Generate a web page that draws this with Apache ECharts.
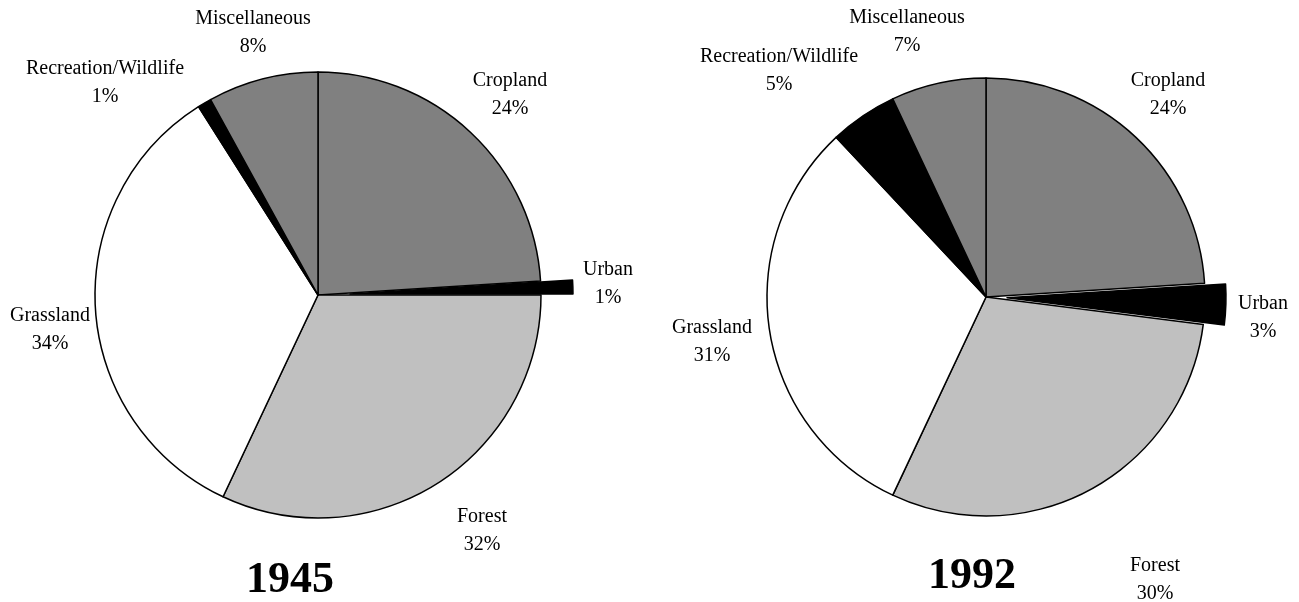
<!DOCTYPE html>
<html>
<head>
<meta charset="utf-8">
<title>Land use 1945 and 1992</title>
<script src="https://cdn.jsdelivr.net/npm/echarts@6/dist/echarts.min.js"></script>
<style>
  html, body { margin: 0; padding: 0; background: #ffffff; }
  #chart { width: 1299px; height: 602px; }
</style>
</head>
<body>
<div id="chart"></div>
<script>
// Land-use categories, in clockwise order from 12 o'clock
const categories = ['Cropland', 'Urban', 'Forest', 'Grassland', 'Recreation/Wildlife', 'Miscellaneous'];
// Percent of land area per category
const share1945 = [24, 1, 32, 34, 1, 8];
const share1992 = [24, 3, 30, 31, 5, 7];
const years = ['1945', '1992'];
// Slice fills, one per category
const fills = ['#808080', '#000000', '#c0c0c0', '#ffffff', '#000000', '#808080'];
// Category pulled out of each pie
const explodedCategory = 'Urban';

// Placement of each pie, its label anchors and year caption
const layout = [
  {
    center: [318, 295], radius: 223, offset: 32,
    labels: [[510, 95], [608, 284], [482, 531], [50, 330], [105, 83], [253, 33]],
    caption: [290, 581]
  },
  {
    center: [986, 297], radius: 219, offset: 21,
    labels: [[1168, 95], [1263, 318], [1155, 580], [712, 342], [779, 71], [907, 32]],
    caption: [972, 577]
  }
];

const FONT = '"Liberation Serif", "Times New Roman", serif';
const LINE = { borderColor: '#000000', borderWidth: 1.5 };

// Main pie: every slice except the pulled-out one, plus all labels
function mainSeries(values, idx) {
  const L = layout[idx];
  return {
    type: 'pie',
    center: L.center,
    radius: L.radius,
    startAngle: 90,
    clockwise: true,
    silent: true,
    animation: false,
    avoidLabelOverlap: false,
    label: {
      show: true,
      position: 'outside',
      formatter: '{b}\n{c}%',
      fontFamily: FONT,
      fontSize: 20,
      lineHeight: 28,
      color: '#000000'
    },
    labelLine: { show: false },
    labelLayout: function (p) {
      const pt = L.labels[p.dataIndex];
      return { x: pt[0], y: pt[1], align: 'center', verticalAlign: 'middle' };
    },
    emphasis: { disabled: true },
    data: categories.map((name, i) => ({
      name: name,
      value: values[i],
      itemStyle: name === explodedCategory
        ? { color: 'transparent', borderWidth: 0 }
        : Object.assign({ color: fills[i] }, LINE)
    }))
  };
}

// Pulled-out slice: same pie, shifted outward along the slice's middle angle
function explodedSeries(values, idx) {
  const L = layout[idx];
  const total = values.reduce((a, b) => a + b, 0);
  const k = categories.indexOf(explodedCategory);
  const before = values.slice(0, k).reduce((a, b) => a + b, 0);
  const mid = (before + values[k] / 2) / total * 2 * Math.PI;
  const center = [
    L.center[0] + L.offset * Math.sin(mid),
    L.center[1] - L.offset * Math.cos(mid)
  ];
  return {
    type: 'pie',
    center: center,
    radius: L.radius,
    startAngle: 90,
    clockwise: true,
    silent: true,
    animation: false,
    label: { show: false },
    labelLine: { show: false },
    emphasis: { disabled: true },
    data: categories.map((name, i) => ({
      name: name,
      value: values[i],
      itemStyle: name === explodedCategory
        ? Object.assign({ color: fills[i] }, LINE)
        : { color: 'transparent', borderWidth: 0 }
    }))
  };
}

const chart = echarts.init(document.getElementById('chart'), null, { renderer: 'canvas' });
chart.setOption({
  backgroundColor: '#ffffff',
  animation: false,
  series: [
    mainSeries(share1945, 0), explodedSeries(share1945, 0),
    mainSeries(share1992, 1), explodedSeries(share1992, 1)
  ],
  graphic: years.map((yr, i) => ({
    type: 'text',
    x: layout[i].caption[0],
    y: layout[i].caption[1],
    style: {
      text: yr,
      font: 'bold 44px ' + FONT,
      fill: '#000000',
      align: 'center',
      verticalAlign: 'middle'
    }
  }))
});
</script>
</body>
</html>
